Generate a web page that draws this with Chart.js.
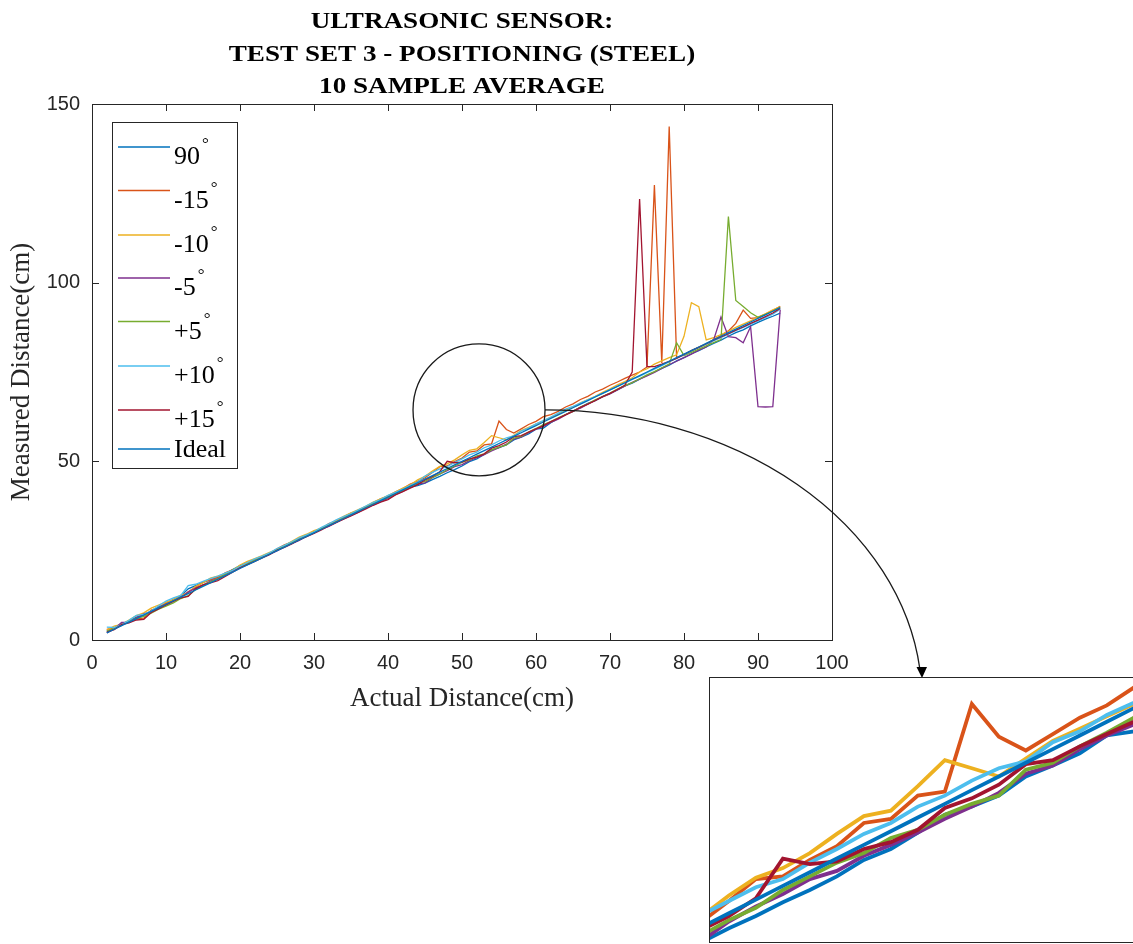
<!DOCTYPE html>
<html>
<head>
<meta charset="utf-8">
<script src="https://cdn.jsdelivr.net/npm/chart.js@4.4.1/dist/chart.umd.min.js"></script>
<style>
  html, body { margin: 0; padding: 0; background: #fff; overflow: hidden; width: 1133px; height: 944px; }
  #main { position: absolute; left: 0; top: 0; }
  #insetBox { position: absolute; left: 709px; top: 677px; width: 460px; height: 264px; border: 1.5px solid #262626; background: #fff; overflow: hidden; }
  #inset { display: block; }
</style>
</head>
<body>
<canvas id="main" width="1133" height="944"></canvas>
<div id="insetBox"><canvas id="inset" width="460" height="264"></canvas></div>
<script>
// ---------- data ----------
const actual = [
  2, 3, 4, 5, 6, 7, 8, 9, 10, 11,
  12, 13, 14, 15, 16, 17, 18, 19, 20, 21,
  22, 23, 24, 25, 26, 27, 28, 29, 30, 31,
  32, 33, 34, 35, 36, 37, 38, 39, 40, 41,
  42, 43, 44, 45, 46, 47, 48, 49, 50, 51,
  52, 53, 54, 55, 56, 57, 58, 59, 60, 61,
  62, 63, 64, 65, 66, 67, 68, 69, 70, 71,
  72, 73, 74, 75, 76, 77, 78, 79, 80, 81,
  82, 83, 84, 85, 86, 87, 88, 89, 90, 91,
  92, 93
];

const deg90 = [
  2.5, 3.2, 4.1, 5.3, 6.4, 6.9, 8.2, 9.3, 10.1, 11.4,
  12.3, 14.3, 15.2, 16.1, 16.8, 17.6, 18.5, 19.7, 20.8, 21.6,
  22.4, 23.3, 24.1, 25.4, 26.2, 27.1, 28.3, 29.0, 30.1, 31.2,
  32.0, 33.1, 34.2, 35.0, 35.9, 37.1, 38.0, 38.8, 39.9, 41.0,
  41.9, 42.8, 43.2, 43.9, 44.9, 45.8, 46.8, 47.7, 48.7, 49.9,
  50.7, 51.9, 53.2, 53.8, 54.6, 56.0, 56.8, 57.7, 59.0, 59.3,
  60.8, 62.0, 63.1, 64.0, 65.1, 66.2, 67.0, 68.1, 69.0, 70.0,
  71.1, 71.9, 73.0, 74.1, 75.0, 76.0, 76.9, 78.1, 79.0, 80.1,
  81.0, 82.0, 83.0, 83.9, 85.0, 86.0, 86.8, 87.9, 88.9, 89.8,
  90.6, 91.5
];

const minus15 = [
  3.0, 3.4, 4.6, 5.2, 5.9, 6.1, 8.4, 9.0, 10.3, 11.2,
  12.0, 13.5, 14.8, 16.2, 16.9, 17.5, 18.8, 19.6, 20.4, 21.5,
  22.6, 23.4, 24.2, 25.5, 26.6, 27.4, 28.2, 29.3, 30.4, 31.2,
  32.6, 33.3, 34.4, 35.5, 36.2, 37.3, 38.4, 39.5, 40.3, 41.5,
  42.4, 43.6, 44.4, 45.4, 46.9, 48.5, 48.7, 49.9, 50.9, 52.6,
  52.9, 54.6, 54.9, 61.3, 58.9, 57.9, 59.1, 60.3, 61.2, 62.5,
  63.1, 64.0, 65.2, 66.1, 67.3, 68.2, 69.4, 70.2, 71.3, 72.2,
  73.2, 74.1, 75.0, 76.4, 127.3, 77.5, 143.7, 79.0, 79.8, 81.0,
  82.0, 82.8, 84.1, 85.2, 86.5, 88.6, 92.3, 90.0, 90.2, 91.2,
  92.2, 93.4
];

const minus10 = [
  2.8, 3.9, 4.4, 5.6, 6.8, 7.6, 8.9, 9.8, 10.6, 11.3,
  12.6, 13.2, 15.0, 16.0, 17.3, 17.9, 18.6, 19.5, 21.0, 22.0,
  22.8, 23.6, 24.5, 25.3, 26.4, 27.6, 28.8, 29.6, 30.6, 31.3,
  32.4, 33.5, 34.6, 35.6, 36.5, 37.4, 38.6, 39.5, 40.4, 41.4,
  42.5, 43.4, 44.8, 45.8, 47.3, 48.6, 49.3, 50.4, 51.8, 53.1,
  53.5, 55.3, 57.2, 56.6, 56.0, 57.3, 58.6, 59.5, 60.4, 61.3,
  62.3, 63.2, 64.3, 65.2, 66.4, 67.3, 68.2, 69.3, 70.3, 71.4,
  72.3, 73.4, 75.0, 75.9, 77.2, 78.1, 79.0, 79.8, 85.0, 94.4,
  93.3, 84.0, 84.6, 85.5, 86.4, 87.5, 88.4, 89.3, 90.4, 91.3,
  92.4, 93.2
];

const minus5 = [
  2.0, 3.1, 4.9, 5.0, 6.2, 7.3, 7.9, 9.0, 9.7, 10.8,
  11.9, 13.4, 14.5, 15.4, 16.5, 17.2, 18.3, 19.4, 20.3, 21.2,
  22.1, 23.2, 24.0, 24.9, 26.1, 27.0, 27.9, 29.1, 30.0, 31.0,
  31.8, 32.8, 33.9, 34.9, 35.8, 36.9, 37.8, 38.7, 39.6, 40.7,
  41.6, 42.7, 43.6, 44.0, 45.4, 46.5, 47.4, 48.5, 49.1, 50.2,
  51.0, 51.9, 52.9, 53.8, 54.8, 56.2, 56.8, 58.0, 59.0, 59.8,
  60.9, 61.8, 63.0, 64.1, 64.9, 66.0, 67.1, 68.0, 68.9, 70.0,
  71.0, 72.1, 73.0, 73.9, 74.9, 76.0, 77.1, 78.0, 79.0, 80.0,
  81.1, 82.0, 84.0, 90.4, 84.9, 84.6, 83.2, 87.7, 65.3, 65.2,
  65.3, 92.4
];

const plus5 = [
  2.4, 3.3, 4.2, 5.1, 6.0, 6.6, 7.5, 8.6, 9.5, 10.4,
  11.6, 12.4, 14.1, 15.3, 16.3, 17.1, 18.4, 19.6, 20.5, 21.4,
  22.3, 23.1, 24.2, 25.2, 26.3, 27.3, 28.1, 29.2, 30.1, 31.1,
  32.1, 33.0, 34.1, 35.1, 36.0, 37.0, 38.1, 39.0, 39.9, 40.9,
  41.8, 42.9, 43.8, 44.4, 45.5, 46.4, 47.7, 48.7, 49.7, 50.4,
  51.5, 52.1, 53.2, 54.0, 54.6, 56.5, 57.0, 58.2, 59.2, 60.3,
  61.1, 62.2, 63.1, 64.0, 65.2, 66.1, 67.2, 68.1, 69.1, 70.2,
  71.2, 72.0, 73.1, 74.2, 75.1, 76.2, 77.2, 83.2, 79.6, 80.5,
  81.4, 82.3, 83.2, 84.1, 118.5, 95.0, 93.3, 91.6, 90.3, 91.1,
  92.0, 93.1
];

const plus10 = [
  3.6, 3.5, 4.3, 5.5, 6.9, 7.2, 8.1, 9.6, 10.9, 11.8,
  12.5, 15.2, 15.6, 16.4, 17.2, 17.9, 18.7, 19.5, 20.6, 21.7,
  22.7, 23.5, 24.4, 25.6, 26.5, 27.5, 28.6, 29.4, 30.3, 31.5,
  32.5, 33.6, 34.5, 35.4, 36.4, 37.5, 38.5, 39.3, 40.5, 41.3,
  42.2, 43.3, 44.2, 45.9, 46.9, 47.9, 48.5, 49.7, 50.7, 51.8,
  52.6, 53.8, 54.6, 55.7, 56.6, 57.1, 58.5, 59.3, 60.5, 61.4,
  62.4, 63.5, 64.6, 65.4, 66.3, 67.2, 68.1, 69.0, 70.0, 71.0,
  71.9, 72.9, 73.8, 74.8, 75.8, 76.8, 77.8, 78.9, 79.8, 80.9,
  81.8, 82.8, 83.7, 84.6, 85.6, 86.6, 87.5, 88.4, 89.3, 90.2,
  91.2, 92.6
];

const plus15 = [
  2.2, 2.9, 4.3, 4.8, 5.6, 5.8, 7.7, 8.7, 9.9, 10.9,
  11.8, 12.2, 14.3, 15.4, 16.0, 16.6, 17.8, 19.0, 20.2, 21.1,
  22.0, 23.0, 23.9, 25.1, 25.9, 26.9, 28.0, 28.9, 29.8, 30.8,
  31.9, 32.9, 33.8, 34.7, 35.7, 36.7, 37.7, 38.6, 39.3, 40.6,
  41.5, 42.5, 43.5, 44.8, 45.8, 47.1, 50.0, 49.6, 49.8, 50.7,
  51.2, 52.1, 53.7, 54.4, 55.4, 56.9, 57.2, 58.2, 59.1, 60.0,
  61.1, 62.0, 63.0, 64.0, 65.1, 66.0, 67.0, 68.1, 69.0, 70.1,
  71.3, 75.0, 123.4, 76.5, 76.5, 77.2, 78.0, 78.8, 79.9, 81.0,
  81.9, 82.9, 83.9, 84.8, 85.7, 86.7, 87.6, 88.6, 89.5, 90.5,
  91.5, 92.8
];

const ideal = [
  2, 3, 4, 5, 6, 7, 8, 9, 10, 11,
  12, 13, 14, 15, 16, 17, 18, 19, 20, 21,
  22, 23, 24, 25, 26, 27, 28, 29, 30, 31,
  32, 33, 34, 35, 36, 37, 38, 39, 40, 41,
  42, 43, 44, 45, 46, 47, 48, 49, 50, 51,
  52, 53, 54, 55, 56, 57, 58, 59, 60, 61,
  62, 63, 64, 65, 66, 67, 68, 69, 70, 71,
  72, 73, 74, 75, 76, 77, 78, 79, 80, 81,
  82, 83, 84, 85, 86, 87, 88, 89, 90, 91,
  92, 93
];

const seriesLabels = ["90°", "-15°", "-10°", "-5°", "+5°", "+10°", "+15°", "Ideal"];
const seriesValues = [deg90, minus15, minus10, minus5, plus5, plus10, plus15, ideal];
const seriesColors = ["#0072BD", "#D95319", "#EDB120", "#7E2F8E", "#77AC30", "#4DBEEE", "#A2142F", "#0072BD"];

const xTicks = [0, 10, 20, 30, 40, 50, 60, 70, 80, 90, 100];
const yTicks = [0, 50, 100, 150];
const titleLines = ["ULTRASONIC SENSOR:", "TEST SET 3 - POSITIONING (STEEL)", "10 SAMPLE AVERAGE"];

// zoom circle in data units, inset window in data units
const zoomCircle = { x: 52.3, y: 64.4, r: 66 };
const insetX = [45.3, 62.34];
const insetY = [43.9, 63.2];

const AX = "#262626";

function makeDatasets(width) {
  return seriesValues.map((vals, i) => ({
    label: seriesLabels[i],
    data: actual.map((x, j) => ({ x: x, y: vals[j] })),
    borderColor: seriesColors[i],
    borderWidth: width,
    pointRadius: 0,
    tension: 0,
    fill: false,
    order: seriesValues.length - i  // later series drawn on top, like MATLAB
  }));
}

// ---------- extra drawing: box, inward ticks, title, legend, circle + arrow ----------
const decorPlugin = {
  id: "decor",
  afterDraw(chart) {
    const ctx = chart.ctx;
    const xs = chart.scales.x;
    const ys = chart.scales.y;
    const a = chart.chartArea;
    ctx.save();

    // axes box
    ctx.strokeStyle = AX;
    ctx.lineWidth = 1;
    ctx.strokeRect(Math.round(a.left) + 0.5, Math.round(a.top) + 0.5,
      Math.round(a.right - a.left), Math.round(a.bottom - a.top));

    // inward tick marks on all four sides
    ctx.beginPath();
    xTicks.forEach((v) => {
      const px = Math.round(xs.getPixelForValue(v)) + 0.5;
      ctx.moveTo(px, a.bottom); ctx.lineTo(px, a.bottom - 7);
      ctx.moveTo(px, a.top); ctx.lineTo(px, a.top + 7);
    });
    yTicks.forEach((v) => {
      const py = Math.round(ys.getPixelForValue(v)) + 0.5;
      ctx.moveTo(a.left, py); ctx.lineTo(a.left + 7, py);
      ctx.moveTo(a.right, py); ctx.lineTo(a.right - 7, py);
    });
    ctx.stroke();

    // title (bold serif, slightly stretched like the original)
    ctx.fillStyle = "#000";
    ctx.font = 'bold 24px "Liberation Serif"';
    ctx.textAlign = "center";
    ctx.textBaseline = "alphabetic";
    const cx = (a.left + a.right) / 2;
    const baselines = [28, 61, 93];
    titleLines.forEach((t, i) => {
      ctx.save();
      ctx.translate(cx, baselines[i]);
      ctx.scale(1.13, 1);
      ctx.fillText(t, 0, 0);
      ctx.restore();
    });

    // legend
    const lg = { left: 112, top: 122, right: 237, bottom: 468 };
    ctx.fillStyle = "#fff";
    ctx.fillRect(lg.left, lg.top, lg.right - lg.left, lg.bottom - lg.top);
    ctx.strokeStyle = AX;
    ctx.lineWidth = 1;
    ctx.strokeRect(lg.left + 0.5, lg.top + 0.5, lg.right - lg.left, lg.bottom - lg.top);
    const rowY = [147, 190.5, 235, 278, 321.5, 366, 410, 449];
    ctx.textAlign = "left";
    seriesLabels.forEach((lab, i) => {
      const y = rowY[i];
      ctx.strokeStyle = seriesColors[i];
      ctx.lineWidth = 1.5;
      ctx.beginPath();
      ctx.moveTo(118, y); ctx.lineTo(170, y);
      ctx.stroke();
      ctx.fillStyle = "#000";
      const isDeg = lab.endsWith("°");
      const base = isDeg ? lab.slice(0, -1) : lab;
      const bl = isDeg ? y + 17 : y + 8;
      ctx.font = '26px "Liberation Serif"';
      ctx.fillText(base, 174, bl);
      if (isDeg) {
        const w = ctx.measureText(base).width;
        ctx.font = '17px "Liberation Serif"';
        ctx.fillText("°", 174 + w + 2, bl - 15);
      }
    });

    // zoom circle
    const ccx = xs.getPixelForValue(zoomCircle.x);
    const ccy = ys.getPixelForValue(zoomCircle.y);
    ctx.strokeStyle = "#1a1a1a";
    ctx.lineWidth = 1.3;
    ctx.beginPath();
    ctx.arc(ccx, ccy, zoomCircle.r, 0, Math.PI * 2);
    ctx.stroke();

    // curved arrow to the inset
    const sx = ccx + zoomCircle.r;
    const tipX = 922, tipY = 678;
    const ex = sx, ey = 700, rx = 377, ry = ey - ccy;
    const endAng = -Math.asin((ey - (tipY - 9)) / ry);
    ctx.beginPath();
    ctx.ellipse(ex, ey, rx, ry, 0, -Math.PI / 2, endAng);
    ctx.stroke();
    ctx.fillStyle = "#000";
    ctx.beginPath();
    ctx.moveTo(tipX, tipY);
    ctx.lineTo(tipX - 5.5, tipY - 11);
    ctx.lineTo(tipX + 5, tipY - 11);
    ctx.closePath();
    ctx.fill();

    ctx.restore();
  }
};

Chart.defaults.font.family = '"Liberation Sans", Arial, sans-serif';
Chart.defaults.color = AX;

new Chart(document.getElementById("main"), {
  type: "line",
  data: { datasets: makeDatasets(1.3) },
  options: {
    responsive: false,
    animation: false,
    devicePixelRatio: 1,
    layout: { padding: { left: 0, top: 104, right: 301, bottom: 0 } },
    plugins: { legend: { display: false }, title: { display: false }, tooltip: { enabled: false } },
    scales: {
      x: {
        type: "linear", min: 0, max: 100,
        afterFit: (s) => { s.height = 304; },
        afterBuildTicks: (s) => { s.ticks = xTicks.map((v) => ({ value: v })); },
        grid: { display: false, drawTicks: false },
        border: { display: false },
        ticks: { font: { size: 20 }, color: AX, padding: 11, maxRotation: 0 },
        title: {
          display: true, text: "Actual Distance(cm)", color: AX,
          font: { family: '"Liberation Serif"', size: 27 },
          padding: { top: 0, bottom: 229 }
        }
      },
      y: {
        type: "linear", min: 0, max: 150,
        afterFit: (s) => { s.width = 92; },
        afterBuildTicks: (s) => { s.ticks = yTicks.map((v) => ({ value: v })); },
        grid: { display: false, drawTicks: false },
        border: { display: false },
        ticks: { font: { size: 20 }, color: AX, padding: 12 },
        title: {
          display: true, text: "Measured Distance(cm)", color: AX,
          font: { family: '"Liberation Serif"', size: 27 },
          padding: { top: 6, bottom: 0 }
        }
      }
    }
  },
  plugins: [decorPlugin]
});

// ---------- zoomed inset ----------
new Chart(document.getElementById("inset"), {
  type: "line",
  data: { datasets: makeDatasets(3.8) },
  options: {
    responsive: false,
    animation: false,
    devicePixelRatio: 1,
    layout: { padding: 0 },
    plugins: { legend: { display: false }, title: { display: false }, tooltip: { enabled: false } },
    scales: {
      x: { type: "linear", min: insetX[0], max: insetX[1], display: false },
      y: { type: "linear", min: insetY[0], max: insetY[1], display: false }
    }
  }
});
</script>
</body>
</html>
